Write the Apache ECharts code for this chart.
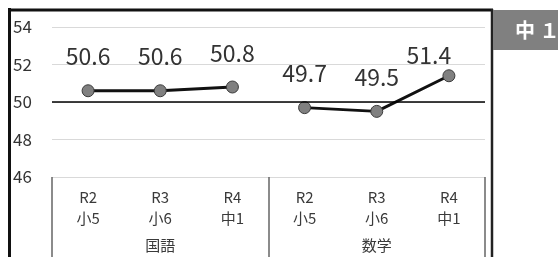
<!DOCTYPE html>
<html>
<head>
<meta charset="utf-8">
<script src="https://cdn.jsdelivr.net/npm/echarts@6/dist/echarts.min.js"></script>
<style>
  html, body { margin: 0; padding: 0; background: #fff; }
  #chart { width: 558px; height: 257px; }
</style>
</head>
<body>
<div id="chart"></div>
<script>
// 国語・数学の推移（中1）
const categories = ["R2\n小5", "R3\n小6", "R4\n中1", "R2\n小5", "R3\n小6", "R4\n中1"];
const groups = ["国語", "数学"];
const kokugo = [50.6, 50.6, 50.8];
const sugaku = [49.7, 49.5, 51.4];
const yTicks = [46, 48, 50, 52, 54];
const badgeText = "中 １";

const FONT = "'Noto Sans CJK JP', 'Noto Sans', sans-serif";

const chart = echarts.init(document.getElementById("chart"));

const gap = ["-", "-", "-"];
const kokugoData = kokugo.concat(gap);
const sugakuData = gap.concat(sugaku).map((v, i) => {
  // 51.4 のラベルは左上にずらす
  if (i === 5) {
    return { value: v, label: { offset: [-20, 14] } };
  }
  return v;
});

const lineSeries = (name, data) => ({
  name,
  type: "line",
  xAxisIndex: 0,
  data,
  symbol: "circle",
  symbolSize: 12,
  lineStyle: { color: "#111", width: 3 },
  itemStyle: { color: "#808080", borderColor: "#3a3a3a", borderWidth: 1 },
  label: {
    show: true,
    position: "top",
    distance: 16,
    fontFamily: FONT,
    fontSize: 23,
    lineHeight: 23,
    color: "#333",
    formatter: (p) => p.value.toFixed(1),
  },
  emphasis: { disabled: true },
});

chart.setOption({
  animation: false,
  grid: { left: 52, right: 73, top: 27, bottom: 80 },
  xAxis: [
    {
      type: "category",
      data: categories,
      position: "bottom",
      axisLine: { show: false },
      axisTick: { show: false },
      axisLabel: {
        margin: 10,
        fontFamily: FONT,
        fontSize: 15,
        lineHeight: 21,
        color: "#3a3a3a",
      },
    },
    {
      type: "category",
      data: groups,
      position: "bottom",
      boundaryGap: true,
      axisLine: { show: false },
      axisTick: {
        show: true,
        length: 90,
        lineStyle: { color: "#666", width: 1.5 },
      },
      axisLabel: {
        margin: 61,
        fontFamily: FONT,
        fontSize: 15,
        color: "#3a3a3a",
      },
    },
  ],
  yAxis: {
    type: "value",
    min: yTicks[0],
    max: yTicks[yTicks.length - 1],
    interval: 2,
    axisLine: { show: false },
    axisTick: { show: false },
    splitLine: { lineStyle: { color: "#d9d9d9", width: 1 } },
    axisLabel: {
      align: "left",
      margin: 39,
      fontFamily: FONT,
      fontSize: 17,
      color: "#333",
    },
  },
  series: [
    Object.assign(lineSeries("国語", kokugoData), {
      markLine: {
        silent: true,
        symbol: ["none", "none"],
        label: { show: false },
        lineStyle: { color: "#000", width: 1.5, type: "solid" },
        data: [{ yAxis: 50 }],
      },
    }),
    lineSeries("数学", sugakuData),
  ],
  graphic: [
    { type: "line", shape: { x1: 9.5, y1: 8, x2: 9.5, y2: 257 }, style: { stroke: "#111", lineWidth: 3 } },
    { type: "line", shape: { x1: 8, y1: 10, x2: 493, y2: 10 }, style: { stroke: "#111", lineWidth: 3 } },
    { type: "line", shape: { x1: 492, y1: 9, x2: 492, y2: 257 }, style: { stroke: "#222", lineWidth: 2.5 } },
    { type: "rect", shape: { x: 493, y: 10, width: 65, height: 40 }, style: { fill: "#808080" } },
    {
      type: "text",
      x: 515,
      y: 30,
      style: {
        text: badgeText,
        fill: "#fff",
        font: "bold 20px " + FONT,
        verticalAlign: "middle",
      },
    },
  ],
});
</script>
</body>
</html>
